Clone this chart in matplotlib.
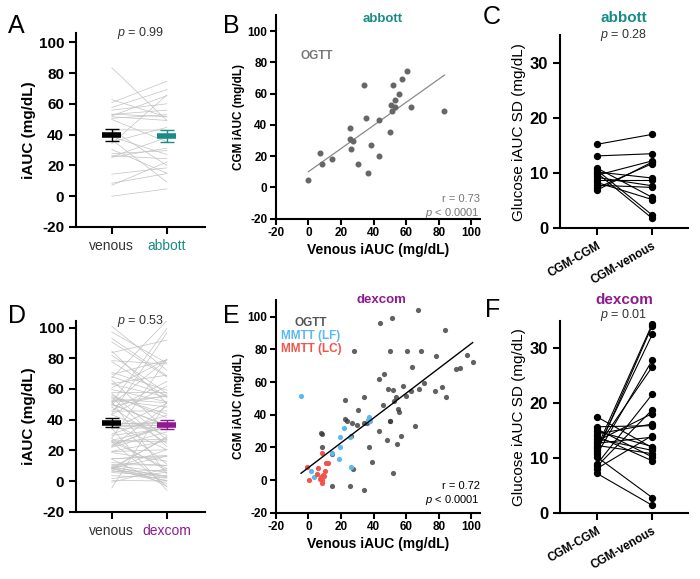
import numpy as np
import matplotlib
matplotlib.use("Agg")
import matplotlib.pyplot as plt

plt.rcParams['font.family'] = ['Liberation Sans', 'DejaVu Sans']
plt.rcParams['mathtext.fontset'] = 'custom'
plt.rcParams['mathtext.rm'] = 'Liberation Sans'
plt.rcParams['mathtext.it'] = 'Liberation Sans:italic'
plt.rcParams['mathtext.bf'] = 'Liberation Sans:bold'
plt.rcParams['axes.unicode_minus'] = False

TEAL = '#1a8c87'
PURPLE = '#8e1a90'
BLUE = '#5cb8f0'
RED = '#f2544c'

# abbott: paired venous vs CGM iAUC (mg/dL)
abbott_venous = [0, 7.1, 8.4, 14.3, 25.5, 25.3, 26.3, 27.6, 30.4, 34.1, 35.3, 36.7, 38.6,
                 43.1, 43.1, 49.8, 50.6, 51.6, 52.2, 53.1, 53.3, 55.9, 57.6, 60.8, 62.7, 83.5]
abbott_cgm = [4.7, 22.2, 14.7, 18.4, 38.2, 31.2, 24.3, 29.6, 14.9, 65.7, 44.7, 9.2, 27.1,
              42.9, 20.0, 35.3, 52.9, 49.2, 65.3, 55.9, 51.6, 60.0, 69.2, 74.7, 51.4, 49.2]

# dexcom: OGTT
ogtt_venous = [67.1, 43.7, 51.0, 83.7, 28.0, 50.0, 60.8, 69.4, 78.4, 97.1, 100.8, 90.6, 92.9,
               63.5, 46.1, 43.3, 48.8, 51.8, 57.8, 68.0, 70.8, 77.8, 82.0, 84.7, 63.1, 59.6,
               53.5, 45.5, 54.9, 55.9, 52.7, 34.1, 22.4, 30.6, 22.7, 23.5, 26.5, 29.8, 34.3,
               35.9, 37.1, 50.0, 50.0, 65.7, 43.1, 48.2, 54.5, 57.1, 37.3, 38.8, 26.1, 7.8,
               8.6, 8.2, 14.5, 27.6, 51.8, 14.3, 25.3, 34.3]
ogtt_cgm = [104.5, 96.5, 99.4, 91.8, 79.2, 79.2, 79.2, 78.8, 76.3, 76.9, 72.2, 67.8, 68.6,
            69.0, 64.9, 61.8, 55.9, 55.1, 57.6, 55.9, 59.2, 54.7, 57.1, 50.6, 54.7, 51.6,
            51.0, 45.7, 43.7, 41.4, 48.2, 50.6, 49.0, 42.9, 37.6, 35.9, 35.1, 33.9, 34.7,
            34.7, 37.6, 36.3, 35.9, 33.1, 29.8, 24.5, 22.4, 26.9, 20.4, 11.0, 27.3, 29.0,
            28.2, 20.4, 15.9, 6.7, 4.5, -3.5, -3.5, -6.1]
# dexcom: MMTT low fat
lf_venous = [-4.5, 1.6, 3.5, 14.5, 18.6, 19.2, 19.4, 22.0, 25.3, 25.9, 37.1, 37.9, 36.7]
lf_cgm = [51.6, 5.7, 2.0, 16.7, 12.9, 20.4, 26.1, 32.0, 26.1, 8.2, 38.4, 35.9, 36.7]
# dexcom: MMTT low carb
lc_venous = [-0.8, 0.4, 6.1, 5.5, 8.2, 7.8, 8.2, 9.0, 10.2, 10.8, 12.0, 9.4, 8.6, 6.9]
lc_cgm = [8.2, 0.0, 7.1, 3.5, 16.3, 2.0, -1.6, 3.1, 5.7, 10.2, 10.2, 2.7, 0.0, 0.4]

# iAUC SD pairs (CGM-CGM, CGM-venous)
abbott_sd_cgm = [15.2, 13.1, 10.9, 10.5, 10.2, 10.0, 9.6, 9.2, 8.7, 8.3, 7.8, 7.3, 6.9]
abbott_sd_ven = [17.0, 13.5, 5.6, 2.4, 9.1, 1.8, 12.2, 7.7, 8.7, 5.2, 7.4, 11.7, 12.0]
dexcom_sd_cgm = [17.5, 15.7, 15.3, 14.9, 14.4, 14.0, 13.5, 13.1, 12.7, 12.3, 12.0, 11.9,
                 11.5, 11.1, 10.7, 10.2, 8.9, 8.5, 8.1, 7.2]
dexcom_sd_ven = [11.9, 15.9, 10.2, 12.1, 16.2, 9.5, 11.4, 18.1, 13.8, 10.8, 26.6, 34.4,
                 32.5, 34.1, 27.8, 2.8, 21.6, 18.8, 14.1, 1.4]

sd_labels = ['CGM-CGM', 'CGM-venous']


def style_axes(ax):
    for s in ['top', 'right']:
        ax.spines[s].set_visible(False)
    for s in ['left', 'bottom']:
        ax.spines[s].set_linewidth(1.5)
    ax.tick_params(width=1.5, length=5, direction='out')


def paired_panel(ax, ven, cgm, color, name, ptext, top):
    ven = np.array(ven)
    cgm = np.array(cgm)
    for a, b in zip(ven, cgm):
        ax.plot([0, 1], [a, b], color='#c2c2c2', lw=0.5, zorder=1)
    for x, vals, c in [(0, ven, 'black'), (1, cgm, color)]:
        m = vals.mean()
        sem = vals.std(ddof=1) / np.sqrt(len(vals))
        ax.plot([x - 0.17, x + 0.17], [m, m], color=c, lw=4, solid_capstyle='butt', zorder=3)
        ax.errorbar([x], [m], yerr=[sem], color=c, capsize=5, capthick=1, lw=1, zorder=3)
    style_axes(ax)
    ax.set_xlim(-0.65, 1.69)
    ax.set_ylim(-20, top)
    ax.set_yticks(range(-20, 101, 20))
    ax.set_xticks([0, 1])
    ax.set_xticklabels(['venous', name], fontsize=10)
    ax.get_xticklabels()[0].set_color('#333333')
    ax.get_xticklabels()[1].set_color(color)
    for t in ax.get_yticklabels():
        t.set_fontweight('bold')
        t.set_fontsize(11)
    ax.set_ylabel('iAUC (mg/dL)', fontweight='bold', fontsize=11, labelpad=2)
    ax.text(0.5, 1.0, ptext, transform=ax.transAxes, ha='center', va='center',
            fontsize=9, color='#333333')


def scatter_setup(ax, top):
    style_axes(ax)
    ax.set_xlim(-20, 105)
    ax.set_ylim(-20, top)
    ax.set_xticks(range(-20, 101, 20))
    ax.set_yticks(range(-20, 101, 20))
    for t in ax.get_xticklabels() + ax.get_yticklabels():
        t.set_fontweight('bold')
        t.set_fontsize(8.5)
    ax.tick_params(length=4, pad=2)
    ax.set_xlabel('Venous iAUC (mg/dL)', fontweight='bold', fontsize=10, labelpad=3)
    ax.set_ylabel('CGM iAUC (mg/dL)', fontweight='bold', fontsize=8.5, labelpad=2)


def sd_panel(ax, left, right, color, name, ptext, ny, py):
    for a, b in zip(left, right):
        ax.plot([0, 1], [a, b], color='black', lw=0.8, zorder=1)
    ax.scatter(np.zeros(len(left)), left, s=18, color='black', zorder=2)
    ax.scatter(np.ones(len(right)), right, s=18, color='black', zorder=2)
    style_axes(ax)
    ax.set_xlim(-0.67, 1.65)
    ax.set_ylim(0, 35)
    ax.set_yticks([0, 10, 20, 30])
    ax.set_xticks([0, 1])
    ax.set_xticklabels(sd_labels, rotation=30, ha='right', rotation_mode='anchor',
                       fontsize=8.5, fontweight='bold')
    for t in ax.get_yticklabels():
        t.set_fontweight('bold')
        t.set_fontsize(12)
    ax.set_ylabel('Glucose iAUC SD (mg/dL)', fontsize=11, labelpad=3)
    ax.text(0.5, ny, name, transform=ax.transAxes, ha='center', va='center',
            fontsize=11, fontweight='bold', color=color)
    ax.text(0.5, py, ptext, transform=ax.transAxes, ha='center', va='center',
            fontsize=9, color='#333333')


fig = plt.figure(figsize=(7, 5.79), dpi=100)

axA = fig.add_axes([0.1086, 0.608, 0.184, 0.335])
axB = fig.add_axes([0.394, 0.6223, 0.291, 0.3518])
axC = fig.add_axes([0.80, 0.6057, 0.183, 0.334])
axD = fig.add_axes([0.1086, 0.1162, 0.184, 0.330])
axE = fig.add_axes([0.394, 0.1145, 0.291, 0.367])
axF = fig.add_axes([0.80, 0.114, 0.183, 0.332])

# A
paired_panel(axA, abbott_venous, abbott_cgm, TEAL, 'abbott', r'$\it{p}$ = 0.99', 106)

# B
scatter_setup(axB, 110.4)
axB.scatter(abbott_venous, abbott_cgm, s=11, color='#666666', zorder=2)
k, b0 = np.polyfit(abbott_venous, abbott_cgm, 1)
xs = np.array([min(abbott_venous), max(abbott_venous)])
axB.plot(xs, k * xs + b0, color='#8a8a8a', lw=0.9, zorder=1)
axB.text(0.524, 0.98, 'abbott', transform=axB.transAxes, ha='center', va='center',
         fontsize=9.5, fontweight='bold', color=TEAL)
axB.text(0.12, 0.80, 'OGTT', transform=axB.transAxes, ha='left', va='center',
         fontsize=8.5, fontweight='bold', color='#777777')
axB.text(1.0, 0.095, 'r = 0.73', transform=axB.transAxes, ha='right', va='center',
         fontsize=8, color='#777777')
axB.text(1.0, 0.028, r'$\it{p}$ < 0.0001', transform=axB.transAxes, ha='right', va='center',
         fontsize=8, color='#777777')

# C
sd_panel(axC, abbott_sd_cgm, abbott_sd_ven, TEAL, 'abbott', r'$\it{p}$ = 0.28', 1.09, 1.0)

# D
dex_venous = ogtt_venous + lf_venous + lc_venous
dex_cgm = ogtt_cgm + lf_cgm + lc_cgm
paired_panel(axD, dex_venous, dex_cgm, PURPLE, 'dexcom', r'$\it{p}$ = 0.53', 104.5)

# E
scatter_setup(axE, 110.2)
axE.scatter(ogtt_venous, ogtt_cgm, s=14, color='#3a3a3a', alpha=0.8, lw=0, zorder=2)
axE.scatter(lf_venous, lf_cgm, s=14, color=BLUE, lw=0, zorder=3)
axE.scatter(lc_venous, lc_cgm, s=14, color=RED, lw=0, zorder=3)
k, b0 = np.polyfit(dex_venous, dex_cgm, 1)
xs = np.array([min(dex_venous), max(dex_venous)])
axE.plot(xs, k * xs + b0, color='black', lw=1, zorder=4)
axE.text(0.52, 1.0, 'dexcom', transform=axE.transAxes, ha='center', va='center',
         fontsize=9.5, fontweight='bold', color=PURPLE)
axE.text(0.172, 0.892, 'OGTT', transform=axE.transAxes, ha='center', va='center',
         fontsize=8.5, fontweight='bold', color='#555555')
axE.text(0.172, 0.832, 'MMTT (LF)', transform=axE.transAxes, ha='center', va='center',
         fontsize=8.5, fontweight='bold', color=BLUE)
axE.text(0.172, 0.77, 'MMTT (LC)', transform=axE.transAxes, ha='center', va='center',
         fontsize=8.5, fontweight='bold', color=RED)
axE.text(1.0, 0.127, 'r = 0.72', transform=axE.transAxes, ha='right', va='center',
         fontsize=8, color='black')
axE.text(1.0, 0.062, r'$\it{p}$ < 0.0001', transform=axE.transAxes, ha='right', va='center',
         fontsize=8, color='black')

# F
sd_panel(axF, dexcom_sd_cgm, dexcom_sd_ven, PURPLE, 'dexcom', r'$\it{p}$ = 0.01', 1.11, 1.03)

# panel letters
for lab, x, y in [('A', 0.012, 0.955), ('B', 0.318, 0.955), ('C', 0.69, 0.97),
                  ('D', 0.012, 0.455), ('E', 0.318, 0.455), ('F', 0.693, 0.465)]:
    fig.text(x, y, lab, fontsize=18, ha='left', va='center')

fig.savefig('out.png', dpi=100)
